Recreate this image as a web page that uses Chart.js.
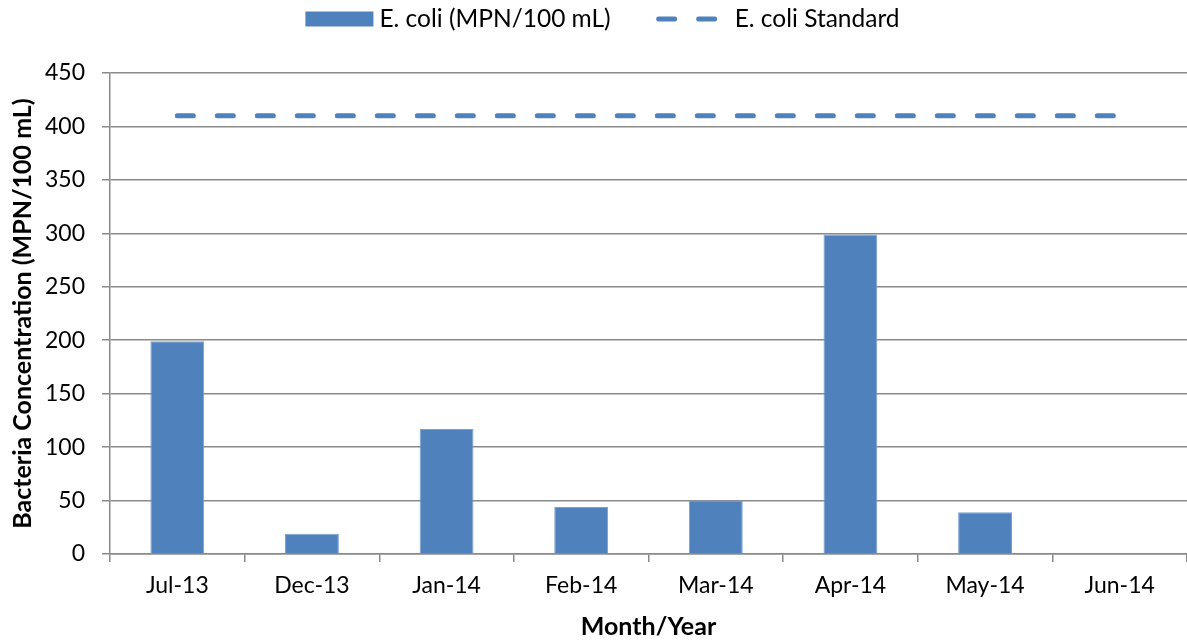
<!DOCTYPE html>
<html>
<head>
<meta charset="utf-8">
<script src="https://cdn.jsdelivr.net/npm/chart.js@4"></script>
<style>
  html, body { margin: 0; padding: 0; background: #fff; }
  #wrap { width: 1187px; height: 643px; position: relative; }
</style>
</head>
<body>
<div id="wrap"><canvas id="ecoliChart"></canvas></div>
<script>
// Data
const MONTHS = ["Jul-13", "Dec-13", "Jan-14", "Feb-14", "Mar-14", "Apr-14", "May-14", "Jun-14"];
const ECOLI_VALUES = [199, 19, 117, 44, 50, 299, 39, 0];
const STANDARD_VALUES = [410, 410, 410, 410, 410, 410, 410, 410];
const Y_TICKS = [0, 50, 100, 150, 200, 250, 300, 350, 400, 450];

const BAR_LABEL = "E. coli (MPN/100 mL)";
const LINE_LABEL = "E. coli Standard";

const BLUE = "#4F81BD";
const GRID = "#8a8a8a";
const FONT = "Lato, 'Open Sans', sans-serif";

// Simple legend drawn on the canvas so spacing can match the original
const legendPlugin = {
  id: "topLegend",
  afterDraw(chart) {
    const ctx = chart.ctx;
    ctx.save();
    ctx.font = `24.5px ${FONT}`;
    ctx.fillStyle = "#000";
    ctx.textBaseline = "middle";
    const y = 19;
    const boxW = 68, boxH = 15, lineW = 56, gapText = 6, gapItems = 45;
    const w1 = ctx.measureText(BAR_LABEL).width;
    const w2 = ctx.measureText(LINE_LABEL).width;
    const total = boxW + gapText + w1 + gapItems + lineW + 5 + gapText + 12 + w2;
    let x = (chart.width - total) / 2 + 9;

    ctx.fillStyle = BLUE;
    ctx.fillRect(x, y - boxH / 2, boxW, boxH);
    x += boxW + gapText;
    ctx.fillStyle = "#000";
    ctx.fillText(BAR_LABEL, x, y);
    x += w1 + gapItems;

    ctx.strokeStyle = BLUE;
    ctx.lineWidth = 5;
    ctx.lineCap = "round";
    ctx.setLineDash([16, 24]);
    ctx.beginPath();
    ctx.moveTo(x + 3, y);
    ctx.lineTo(x + 3 + lineW, y);
    ctx.stroke();
    ctx.setLineDash([]);
    x += lineW + 5 + gapText + 12;
    ctx.fillText(LINE_LABEL, x, y);
    ctx.restore();
  },
};

function initChart() {
  const ctx = document.getElementById("ecoliChart").getContext("2d");

  new Chart(ctx, {
    type: "bar",
    data: {
      labels: MONTHS,
      datasets: [
        {
          type: "line",
          label: LINE_LABEL,
          data: STANDARD_VALUES,
          borderColor: BLUE,
          borderWidth: 5,
          borderDash: [16, 24],
          borderCapStyle: "round",
          pointRadius: 0,
          fill: false,
          order: 0,
        },
        {
          label: BAR_LABEL,
          data: ECOLI_VALUES,
          backgroundColor: BLUE,
          borderColor: "#7b9fcf",
          borderWidth: 1,
          barPercentage: 0.4,
          categoryPercentage: 1,
          order: 1,
        },
      ],
    },
    options: {
      responsive: true,
      maintainAspectRatio: false,
      animation: false,
      layout: { padding: { top: 73, left: 0, right: 0, bottom: 0 } },
      plugins: {
        legend: { display: false },
        tooltip: { enabled: false },
      },
      scales: {
        x: {
          offset: true,
          grid: {
            display: true,
            offset: true,
            drawOnChartArea: false,
            drawTicks: true,
            tickLength: 8,
            color: GRID,
            lineWidth: 1.5,
          },
          border: { display: true, color: GRID, width: 1.5 },
          ticks: {
            color: "#000",
            font: { family: FONT, size: 23 },
            padding: 10,
            maxRotation: 0,
          },
          title: {
            display: true,
            text: "Month/Year",
            color: "#000",
            font: { family: FONT, size: 25, weight: "bold" },
            padding: { top: 0, bottom: 1 },
          },
          afterFit(scale) {
            scale.height = 89;
          },
        },
        y: {
          min: 0,
          max: 450,
          afterBuildTicks(scale) {
            scale.ticks = Y_TICKS.map((v) => ({ value: v }));
          },
          grid: {
            color: GRID,
            lineWidth: 1.5,
            drawTicks: true,
            tickLength: 8,
          },
          border: { display: true, color: GRID, width: 1.5 },
          ticks: {
            color: "#000",
            font: { family: FONT, size: 23 },
            padding: 17,
          },
          title: {
            display: true,
            text: "Bacteria Concentration (MPN/100 mL)",
            color: "#000",
            font: { family: FONT, size: 25, weight: "bold" },
            padding: { top: 8, bottom: 0 },
          },
          afterFit(scale) {
            scale.width = 110;
          },
        },
      },
    },
    plugins: [legendPlugin],
  });
}

document.addEventListener("DOMContentLoaded", initChart);
</script>
</body>
</html>
